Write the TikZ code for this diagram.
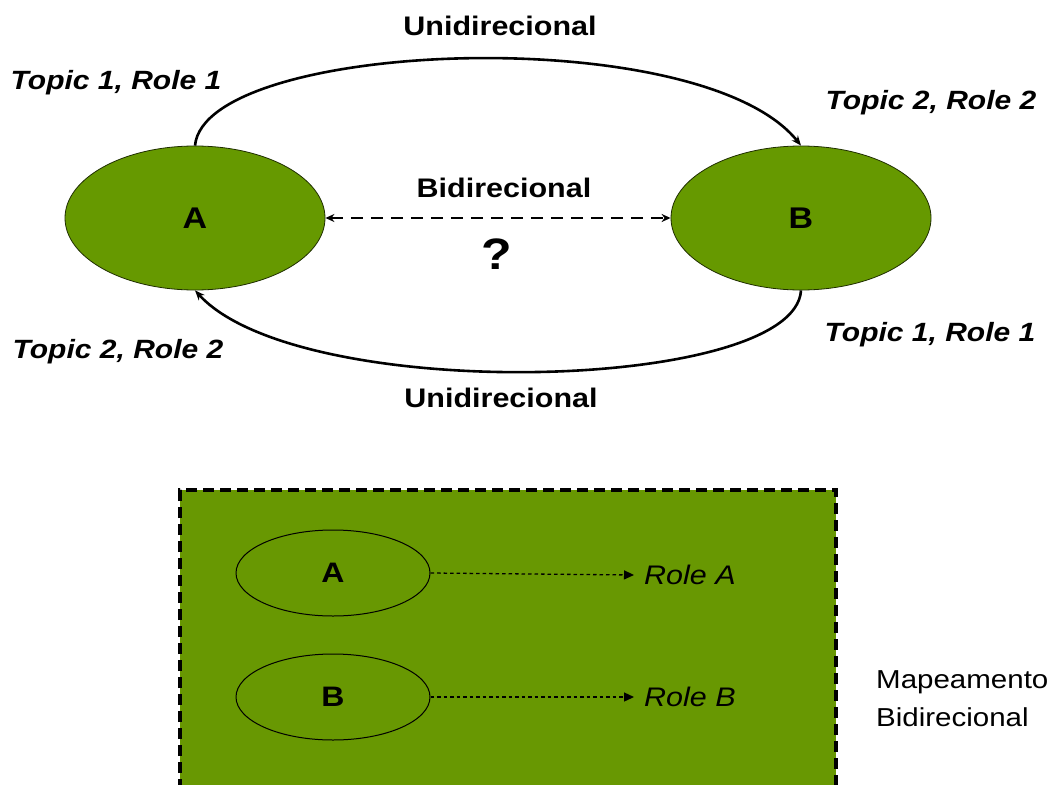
\documentclass[tikz,border=0pt]{standalone}
\usepackage{fontspec}
\setmainfont{Liberation Sans}
\usetikzlibrary{arrows.meta,shapes.geometric}
\definecolor{leaf}{RGB}{102,153,0}
\definecolor{leafbox}{RGB}{104,152,2}
\newcommand\squash[1]{\scalebox{1}[0.88]{#1}}
\tikzset{
  big/.style={ellipse,draw=black!70!leaf,line width=0.8pt,fill=leaf,
    minimum width=260pt,minimum height=144pt,inner sep=0pt,
    font=\fontsize{34}{35}\selectfont\bfseries},
  small/.style={ellipse,draw=black,line width=1pt,fill=leafbox,
    minimum width=194pt,minimum height=86pt,inner sep=0pt,
    font=\fontsize{32}{33}\selectfont\bfseries},
  lbl/.style={inner sep=0pt,font=\fontsize{30.5}{31}\selectfont\bfseries},
  role/.style={inner sep=0pt,font=\fontsize{30}{31}\selectfont\bfseries\itshape},
  plain/.style={inner sep=0pt,font=\fontsize{30.5}{31}\selectfont\itshape},
  flow/.style={line width=2.6pt,-{Stealth[length=10pt,width=8pt]}},
  link/.style={line width=2.6pt,dash pattern=on 12pt off 8pt,
    {Stealth[length=9pt,width=8pt]}-{Stealth[length=9pt,width=8pt]}},
  map/.style={line width=1.3pt,dash pattern=on 3.5pt off 3pt,-{Triangle[length=10pt,width=9pt]}}
}
\begin{document}
\begin{tikzpicture}[x=1pt,y=-1pt]
\useasboundingbox (0,0) rectangle (1059,784);
\fill[white] (0,0) rectangle (1059,784);

% upper part: two topics exchanged between A and B
\node[big] (A) at (195,218) {\squash{A}};
\node[big] (B) at (801,218) {\squash{B}};

\draw[flow] (A.north) .. controls (205,40) and (700,20) .. (B.north);
\draw[flow] (B.south) .. controls (795,392) and (300,405) .. (A.south);
\draw[link] (A.east) -- (B.west);

\node[lbl] (uniTop) at (500,26) {\squash{Unidirecional}};
\node[lbl] (uniBot) at (501,398) {\squash{Unidirecional}};
\node[lbl] (bidi) at (504,188) {\squash{Bidirecional}};
\node[inner sep=0pt,font=\fontsize{50}{52}\selectfont\bfseries] (q) at (497,254) {\squash{?}};

\node[role] (tA1) at (116,83) {\squash{Topic 1, Role 1}};
\node[role] (tB2) at (931,103) {\squash{Topic 2, Role 2}};
\node[role] (tB1) at (930,335) {\squash{Topic 1, Role 1}};
\node[role] (tA2) at (118,352) {\squash{Topic 2, Role 2}};

% lower part: bidirectional mapping of A and B to roles
\draw[fill=leafbox,line width=3.6pt,dash pattern=on 11pt off 6pt]
  (180,790) -- (180,490) -- (836,490) -- (836,790);

\node[small] (a) at (333,573) {\squash{A}};
\node[small] (b) at (333,697) {\squash{B}};
\node[plain,anchor=west] (ra) at (644,575) {\squash{Role A}};
\node[plain,anchor=west] (rb) at (644,697) {\squash{Role B}};
\coordinate (ta) at (634,575);
\coordinate (tb) at (634,697);
\draw[map] (a.east) -- (ta);
\draw[map] (b.east) -- (tb);

\node[inner sep=0pt,anchor=west,align=left,font=\fontsize{29.5}{38}\selectfont] (mb) at (876,699)
  {\squash{Mapeamento}\\\squash{Bidirecional}};
\end{tikzpicture}
\end{document}
